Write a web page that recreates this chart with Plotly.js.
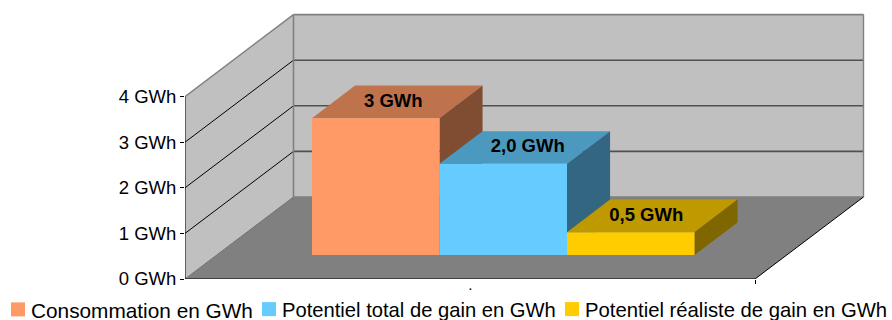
<!DOCTYPE html>
<html>
<head>
<meta charset="utf-8">
<script src="https://cdn.plot.ly/plotly-3.0.1.min.js"></script>
<style>html,body{margin:0;padding:0;background:#fff}#chart{width:892px;height:320px}</style>
</head>
<body>
<div id="chart"></div>
<script>
// Energy savings figures, one bar per series
const seriesNames = ["Consommation en GWh", "Potentiel total de gain en GWh", "Potentiel réaliste de gain en GWh"];
const seriesValues = [3, 2.0, 0.5];
const valueLabels = ["3 GWh", "2,0 GWh", "0,5 GWh"];
const frontColors = ["#ff9966", "#66ccff", "#ffcc00"];
const topColors = ["#bf734c", "#4c99bf", "#bf9900"];
const sideColors = ["#804d33", "#336680", "#806600"];
const axisValues = [0, 1, 2, 3, 4];
const axisLabels = ["0 GWh", "1 GWh", "2 GWh", "3 GWh", "4 GWh"];

// Oblique box geometry. Along the floor x is in px, value is in GWh,
// depth runs from 0 (front edge) to 1 (back wall).
const PX_PER_GWH = 45.6;
const DEPTH_X = 108.5, DEPTH_Y = 82;
const FLOOR_W = 570, WALL_MAX = 4;
const BAR_W = 127.5, BAR_START = 95.2;
const BAR_D0 = 0.293, BAR_D1 = 0.69;
const LABEL_NUDGE = [-4, 3, -6];

const FONT = "Liberation Sans, Arial, sans-serif";
const px = (u, d) => u + d * DEPTH_X;
const py = (v, d) => v + d * DEPTH_Y / PX_PER_GWH;

function polygon(corners, color) {
  return {
    type: "scatter", mode: "lines", fill: "toself", fillcolor: color,
    x: corners.map(c => px(c[0], c[2])), y: corners.map(c => py(c[1], c[2])),
    line: {width: 0}, showlegend: false, hoverinfo: "skip", cliponaxis: false
  };
}
function segment(a, b, color, width) {
  return {
    type: "scatter", mode: "lines",
    x: [px(a[0], a[2]), px(b[0], b[2])], y: [py(a[1], a[2]), py(b[1], b[2])],
    line: {color: color, width: width}, showlegend: false, hoverinfo: "skip", cliponaxis: false
  };
}

const traces = [];

// Walls and floor
traces.push(polygon([[0,0,0],[0,WALL_MAX,0],[0,WALL_MAX,1],[0,0,1]], "#c0c0c0"));
traces.push(polygon([[0,0,1],[0,WALL_MAX,1],[FLOOR_W,WALL_MAX,1],[FLOOR_W,0,1]], "#c0c0c0"));
traces.push(polygon([[0,0,0],[0,0,1],[FLOOR_W,0,1],[FLOOR_W,0,0]], "#808080"));

// Gridlines across both walls
axisValues.slice(1, -1).forEach(v => {
  traces.push(segment([0,v,0],[0,v,1], "#000000", 1));
  traces.push(segment([0,v,1],[FLOOR_W,v,1], "#505050", 1.6));
});

// Wall outlines
traces.push(segment([0,WALL_MAX,0],[0,WALL_MAX,1], "#808080", 1.4));
traces.push(segment([0,WALL_MAX,1],[FLOOR_W,WALL_MAX,1], "#808080", 1.6));
traces.push(segment([FLOOR_W,WALL_MAX,1],[FLOOR_W,0,1], "#808080", 1.4));
traces.push(segment([0,WALL_MAX,1],[0,0,1], "#808080", 1.6));
traces.push(segment([0,0,1],[FLOOR_W,0,1], "#808080", 1.4));
traces.push(segment([0,0,0],[0,0,1], "#707070", 1));

// Axis edges in black
traces.push(segment([0,0,0],[0,WALL_MAX,0], "#000000", 1));
traces.push(segment([0,0,0],[FLOOR_W,0,0], "#000000", 1));
traces.push(segment([FLOOR_W,0,0],[FLOOR_W,0,1], "#000000", 1));

// Bars, left to right so that each front hides the side of the one before
seriesValues.forEach((v, i) => {
  const a = BAR_START + i * BAR_W, b = a + BAR_W;
  traces.push(polygon([[a,v,BAR_D0],[a,v,BAR_D1],[b,v,BAR_D1],[b,v,BAR_D0]], topColors[i]));
  traces.push(polygon([[b,0,BAR_D0],[b,v,BAR_D0],[b,v,BAR_D1],[b,0,BAR_D1]], sideColors[i]));
  traces.push(polygon([[a,0,BAR_D0],[a,v,BAR_D0],[b,v,BAR_D0],[b,0,BAR_D0]], frontColors[i]));
});

// Value labels on the top faces
const midD = (BAR_D0 + BAR_D1) / 2;
traces.push({
  type: "scatter", mode: "text",
  x: seriesValues.map((v, i) => px(BAR_START + (i + 0.5) * BAR_W + LABEL_NUDGE[i], midD)),
  y: seriesValues.map(v => py(v, midD)),
  text: valueLabels, textposition: "middle center",
  textfont: {family: FONT, size: 18.5, color: "#000000", weight: 700},
  showlegend: false, hoverinfo: "skip", cliponaxis: false
});

// One legend per series so each entry sits at its own spot along the bottom
const legendIds = ["legend", "legend2", "legend3"];
const legendTextLeft = [31, 282, 585];
const legendFontSizes = [20.8, 20.2, 20.3];
const legendCenterY = 310;
seriesNames.forEach((name, i) => {
  traces.push({
    type: "scatter", mode: "markers", name: name, x: [null], y: [null],
    legend: legendIds[i],
    marker: {symbol: "square", size: 14, color: frontColors[i]}, hoverinfo: "skip"
  });
});

const layout = {
  width: 892, height: 320,
  margin: {l: 185, r: 22, t: 10, b: 41, pad: 0, autoexpand: false},
  paper_bgcolor: "#ffffff", plot_bgcolor: "rgba(0,0,0,0)",
  font: {family: FONT, size: 18.5, color: "#000000"},
  xaxis: {
    range: [0, 685], showgrid: false, zeroline: false, showline: false, fixedrange: true,
    tickmode: "array", tickvals: [FLOOR_W], ticktext: [""],
    ticks: "outside", ticklen: 4, tickwidth: 1, tickcolor: "#000000"
  },
  yaxis: {
    range: [0, 269 / PX_PER_GWH], showgrid: false, zeroline: false, showline: false, fixedrange: true,
    tickmode: "array", tickvals: axisValues, ticktext: axisLabels,
    ticks: "outside", ticklen: 4, tickwidth: 1, tickcolor: "#000000",
    tickfont: {family: FONT, size: 18.5, color: "#000000"}
  },
  annotations: [{
    xref: "x", yref: "paper", x: FLOOR_W / 2, y: 0, yshift: -15, showarrow: false,
    text: ".", font: {family: FONT, size: 10, color: "#000000", weight: 700}
  }],
  showlegend: true
};
legendIds.forEach((id, i) => {
  layout[id] = {
    xref: "container", yref: "container", x: i / 3, y: 0.05, xanchor: "left", yanchor: "middle",
    orientation: "h",
    font: {family: FONT, size: legendFontSizes[i], color: "#000000"},
    itemwidth: 30, bgcolor: "rgba(0,0,0,0)", borderwidth: 0
  };
});

Plotly.newPlot("chart", traces, layout, {displayModeBar: false, staticPlot: true}).then(gd => {
  // Tighten each legend: small gap between swatch and text, text at a set left edge
  legendIds.forEach((id, i) => {
    const g = gd.querySelector("g." + id);
    const txt = g.querySelector("text").getBoundingClientRect();
    const m = /translate\(\s*([-\d.]+)[ ,]+([-\d.]+)/.exec(g.getAttribute("transform"));
    const dx = legendTextLeft[i] - txt.left;
    const dy = legendCenterY - (txt.top + txt.height / 2);
    g.setAttribute("transform", `translate(${+m[1] + dx},${+m[2] + dy})`);
    g.querySelectorAll("g.layers").forEach(el => el.setAttribute("transform", "translate(7,0)"));
    g.querySelectorAll("[clip-path]").forEach(el => el.removeAttribute("clip-path"));
  });
});
</script>
</body>
</html>
